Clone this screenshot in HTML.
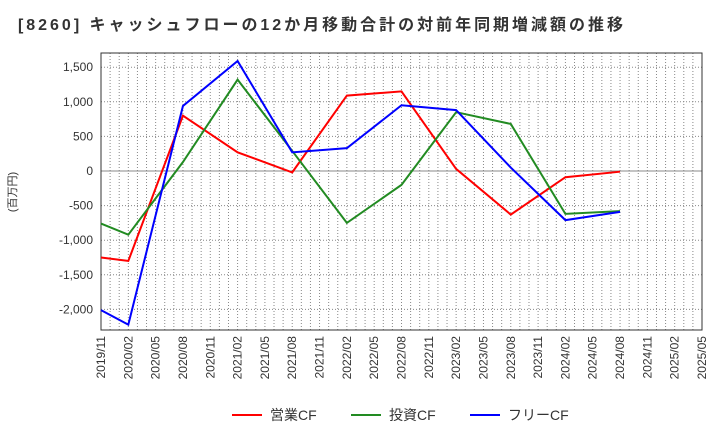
<!DOCTYPE html>
<html><head><meta charset="utf-8"><style>
body{margin:0;background:#fff;font-family:"Liberation Sans","Noto Sans CJK JP",sans-serif;}
</style></head><body>
<svg id="chart" width="720" height="440" xmlns="http://www.w3.org/2000/svg">
<text x="18" y="30" font-size="16" font-weight="bold" fill="#333" textLength="605" lengthAdjust="spacing" font-family="Liberation Sans, Noto Sans CJK JP, sans-serif">[8260]  キャッシュフローの12か月移動合計の対前年同期増減額の推移</text>
<text transform="translate(16,192) rotate(-90)" text-anchor="middle" font-size="11" fill="#333" font-family="Liberation Sans, Noto Sans CJK JP, sans-serif">(百万円)</text>
<g id="grid"></g><g id="axes"></g><g id="series"></g>
<g font-size="14" fill="#333" font-family="Liberation Sans, Noto Sans CJK JP, sans-serif">
<line x1="232" y1="415" x2="262" y2="415" stroke="#ff0000" stroke-width="2"/>
<text x="270" y="420">営業CF</text>
<line x1="351" y1="415" x2="381" y2="415" stroke="#228b22" stroke-width="2"/>
<text x="389" y="420">投資CF</text>
<line x1="470" y1="415" x2="500" y2="415" stroke="#0000ff" stroke-width="2"/>
<text x="508" y="420">フリーCF</text>
</g>
</svg>
<script>
const xLabels=["2019/11","2020/02","2020/05","2020/08","2020/11","2021/02","2021/05","2021/08","2021/11","2022/02","2022/05","2022/08","2022/11","2023/02","2023/05","2023/08","2023/11","2024/02","2024/05","2024/08","2024/11","2025/02","2025/05"];
const yTicks=[-2000,-1500,-1000,-500,0,500,1000,1500];
const dataIdx=[0,1,3,5,7,9,11,13,15,17,19];
const operatingCF=[-1250,-1300,800,270,-20,1090,1150,30,-630,-90,-10];
const investingCF=[-760,-920,130,1320,290,-750,-200,850,680,-620,-580];
const freeCF=[-2010,-2220,940,1590,270,330,950,880,50,-710,-590];
const L=101,R=702,T=53,B=330;
const NS="http://www.w3.org/2000/svg";
const xs=i=>L+(R-L)*i/(xLabels.length-1);
const ys=v=>171-v*0.0692;
function mk(tag,attrs,parent){const e=document.createElementNS(NS,tag);for(const k in attrs)e.setAttribute(k,attrs[k]);parent.appendChild(e);return e;}
const grid=document.getElementById('grid'),axes=document.getElementById('axes'),ser=document.getElementById('series');
for(let m=0;m<=(xLabels.length-1)*3;m++){const x=L+(R-L)*m/((xLabels.length-1)*3);
const g=mk('line',{x1:x,x2:x,y1:T,y2:B,stroke:'#888','stroke-width':1,'stroke-dasharray':'1,2'},grid);

}
yTicks.forEach(v=>{const y=ys(v);
const g=mk('line',{x1:L,x2:R,y1:y,y2:y,stroke:'#888','stroke-width':1,'stroke-dasharray':v===0?'':'1,2'},grid);


const t=mk('text',{x:L-8,y:y+4,'text-anchor':'end','font-size':12,fill:'#333'},axes);
t.textContent=v.toLocaleString('en-US');

});
const fr=mk('rect',{x:L,y:T,width:R-L,height:B-T,fill:'none',stroke:'#333','stroke-width':1},axes);


xLabels.forEach((s,i)=>{const x=xs(i);
const t=mk('text',{transform:`translate(${x+4},${B+6}) rotate(-90)`,'text-anchor':'end','font-size':12,fill:'#333'},axes);
t.textContent=s;

});
[[operatingCF,'#ff0000','operating-cf-line'],[investingCF,'#228b22','investing-cf-line'],[freeCF,'#0000ff','free-cf-line']].forEach(([d,c,n])=>{
const p=mk('polyline',{points:d.map((v,k)=>xs(dataIdx[k])+','+ys(v)).join(' '),fill:'none',stroke:c,'stroke-width':2},ser);

});
</script>
</body></html>
